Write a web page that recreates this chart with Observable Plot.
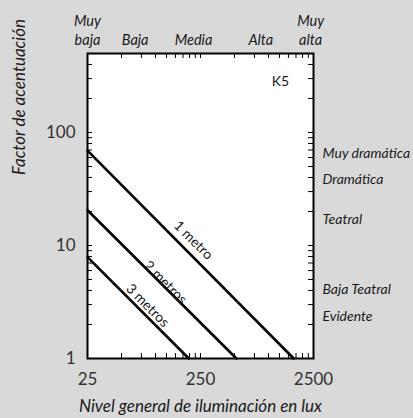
<!DOCTYPE html>
<html><head><meta charset="utf-8">
<script src="https://cdn.jsdelivr.net/npm/d3@7"></script>
<script src="https://cdn.jsdelivr.net/npm/@observablehq/plot@0.6"></script>
<style>
html,body{margin:0;padding:0;background:#d9d9d9;}
</style></head><body><div id="chart"></div>
<script>
// Lines: factor de acentuación vs nivel general (log-log)
const distances = ["1 metro", "2 metros", "3 metros"];
const startLux = [25, 25, 25];
const startFactor = [69, 20.5, 7.9];
const endLux = [1670, 520, 197];
const endFactor = [1, 1, 1];
const labelLux = [216, 122, 85];
const labelFactor = [11.1, 4.7, 2.94];

// Top categories (illumination level)
const levelNames = ["Muy\nbaja", "Baja", "Media", "Alta", "Muy\nalta"];
const levelLux = [25, 66, 217, 855, 2360];

// Right categories (accent)
const accentNames = ["Muy dramática", "Dramática", "Teatral", "Baja Teatral", "Evidente"];
const accentFactor = [65, 38, 17, 4.1, 2.35];

const cornerLabel = ["K5"];
const cornerLux = [1275];
const cornerFactor = [283];

// Ticks
const xTickLabels = [25, 250, 2500];
const xTickMarks = [50, 75, 100, 125, 150, 175, 200, 225, 250, 500, 750, 1000, 1250, 1500, 1750, 2000, 2250];
const yTickLabels = [1, 10, 100];
const yTickMarks = [2, 3, 4, 5, 6, 7, 8, 9, 10, 20, 30, 40, 50, 60, 70, 80, 90, 100, 200, 300, 400];

const lines = distances.flatMap((d, i) => [
  {d, lux: startLux[i], f: startFactor[i]},
  {d, lux: endLux[i], f: endFactor[i]}
]);

const W = 413, H = 418, mL = 87, mR = 100, mT = 53, mB = 60;
const fw = W - mL - mR, fh = H - mT - mB, tk = 5;

const font = "Lato, 'Open Sans', sans-serif";
const ink = "#1a1a1a";

const chart = Plot.plot({
  width: W,
  height: H,
  marginLeft: mL,
  marginRight: mR,
  marginTop: mT,
  marginBottom: mB,
  style: {fontFamily: font, background: "#d9d9d9", color: ink, overflow: "visible"},
  x: {type: "log", domain: [25, 2500]},
  y: {type: "log", domain: [1, 500]},
  marks: [
    Plot.frame({fill: "white", stroke: "none"}),
    // inward ticks
    Plot.tickX(xTickMarks, {x: d => d, insetTop: fh - tk, stroke: "black", strokeWidth: 1}),
    Plot.tickX(xTickMarks, {x: d => d, insetBottom: fh - tk, stroke: "black", strokeWidth: 1}),
    Plot.tickY(yTickMarks, {y: d => d, insetRight: fw - tk, stroke: "black", strokeWidth: 1}),
    Plot.tickY(yTickMarks, {y: d => d, insetLeft: fw - tk, stroke: "black", strokeWidth: 1}),
    // tick labels
    Plot.axisX({anchor: "bottom", ticks: xTickLabels, tickSize: 0, tickPadding: 14, tickFormat: d => String(d), fontSize: 17, fill: "#333", label: null}),
    Plot.axisY({anchor: "left", ticks: yTickLabels, tickSize: 0, tickPadding: 12, tickFormat: d => String(d), fontSize: 17, fill: "#333", label: null}),
    // lines
    Plot.line(lines, {x: "lux", y: "f", z: "d", stroke: "black", strokeWidth: 2.6}),
    Plot.text(distances, {x: labelLux, y: labelFactor, rotate: 45, fontSize: 14, fill: ink}),
    Plot.text(cornerLabel, {x: cornerLux, y: cornerFactor, fontSize: 14, fill: ink}),
    // category labels
    Plot.text(levelNames, {x: levelLux, frameAnchor: "top", dy: -9, lineAnchor: "bottom", fontStyle: "italic", fontSize: 14.5, lineHeight: 1.25, fill: ink}),
    Plot.text(accentNames, {y: accentFactor, frameAnchor: "right", dx: 9, textAnchor: "start", fontStyle: "italic", fontSize: 14, fill: ink}),
    // axis titles
    Plot.text(["Factor de acentuación"], {frameAnchor: "top-left", dx: -68, dy: 43.5, rotate: -90, textAnchor: "middle", lineAnchor: "middle", fontStyle: "italic", fontSize: 17, fill: ink}),
    Plot.text(["Nivel general de iluminación en lux"], {frameAnchor: "bottom", dy: 53, fontStyle: "italic", fontSize: 17, fill: ink}),
    Plot.frame({stroke: "black", strokeWidth: 2})
  ]
});
document.getElementById("chart").append(chart);
</script>
</body></html>
